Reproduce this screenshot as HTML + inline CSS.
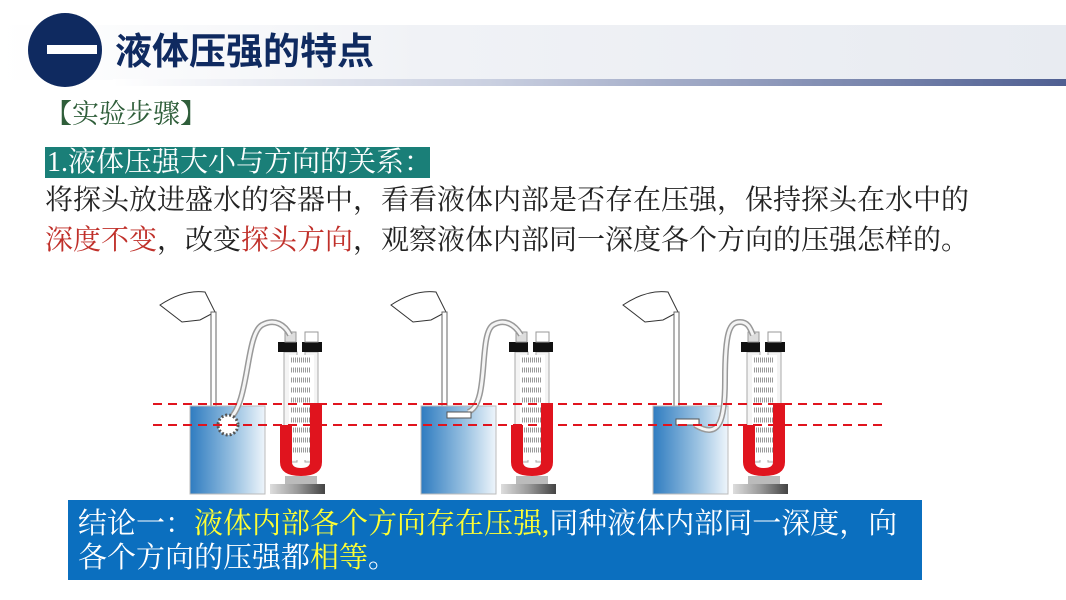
<!DOCTYPE html>
<html><head><meta charset="utf-8"><style>
body{margin:0;width:1066px;height:600px;background:#fff;position:relative;overflow:hidden;font-family:"Liberation Serif","Noto Serif CJK SC",serif}
.t{position:absolute;white-space:nowrap;font-size:28px;line-height:32px}
</style></head><body>
<div style="position:absolute;left:0;top:25px;width:1066px;height:55px;background:linear-gradient(90deg,#fff 0%,#f0f2f6 40%,#e8ebf1 100%)"></div>
<div style="position:absolute;left:113px;top:79px;width:953px;height:7px;background:linear-gradient(90deg,#fff 0%,#c9cfe0 40%,#4f5f92 100%)"></div>
<div style="position:absolute;left:28px;top:13px;width:74px;height:74px;border-radius:50%;background:#0f2a60"></div>
<div style="position:absolute;left:47px;top:45px;width:50px;height:9px;background:#fff"></div>
<div class="t" style="left:115px;top:31px;font-size:37px;line-height:42px;font-weight:bold;color:#0f2a60;font-family:'Liberation Sans','Noto Sans CJK SC',sans-serif">液体压强的特点</div>
<div class="t" style="left:45px;top:98px;color:#2f5e3a;font-size:27px">【实验步骤】</div>
<div style="position:absolute;left:45px;top:147px;width:385px;height:31px;background:#1a7f78"></div>
<div class="t" style="left:47px;top:147px;color:#fff">1.液体压强大小与方向的关系：</div>
<div class="t" style="left:45px;top:185px;color:#222">将探头放进盛水的容器中，看看液体内部是否存在压强，保持探头在水中的</div>
<div class="t" style="left:45px;top:225px;color:#222"><span style="color:#c0302a">深度不变</span>，改变<span style="color:#c0302a">探头方向</span>，观察液体内部同一深度各个方向的压强怎样的。</div>
<svg style="position:absolute;left:0;top:0" width="1066" height="600">
<defs>
<linearGradient id="w" x1="0" x2="1"><stop offset="0" stop-color="#2f7cc0"/><stop offset="0.6" stop-color="#9cc3e2"/><stop offset="1" stop-color="#eef5fb"/></linearGradient>
<linearGradient id="g" x1="0" x2="1"><stop offset="0" stop-color="#ddd"/><stop offset="0.5" stop-color="#999"/><stop offset="1" stop-color="#444"/></linearGradient>
<g id="app">
<path d="M160 305 C175 295 190 290 205 292 L215 312 L200 320 L182 322 Z" fill="#fff" stroke="#333" stroke-width="1"/>
<rect x="211" y="312" width="5" height="108" fill="#fff" stroke="#666" stroke-width="1"/>
<rect x="190" y="406" width="75" height="88" fill="url(#w)" stroke="#bbb"/>
<rect x="284" y="352" width="13" height="110" fill="#f4f4f4" stroke="#aaa"/>
<rect x="305" y="352" width="13" height="110" fill="#f4f4f4" stroke="#aaa"/>
<rect x="289" y="355" width="25" height="105" fill="#fff"/>
<path d="M291 360 H311 M291 370 H311 M291 380 H311 M291 390 H311 M291 400 H311 M291 410 H311 M291 420 H311 M291 430 H311 M291 440 H311 M291 450 H311" stroke="#999" stroke-width="5" stroke-dasharray="1 1"/>
<path d="M280 425 H292 V462 Q292 468 301 468 Q310 468 310 462 V403 H322 V462 Q322 476 301 476 Q280 476 280 462 Z" fill="#e0141e"/>
<rect x="278" y="342" width="19" height="10" fill="#111"/>
<rect x="302" y="342" width="20" height="10" fill="#111"/>
<rect x="305" y="332" width="13" height="10" fill="#fff" stroke="#999"/>
<rect x="285" y="332" width="11" height="10" fill="#ddd" stroke="#999"/>
<rect x="285" y="476" width="32" height="8" fill="#bbb"/>
<rect x="270" y="484" width="55" height="10" fill="url(#g)"/>
</g>
</defs>
<use href="#app"/>
<use href="#app" x="231"/>
<use href="#app" x="463"/>
<path d="M228 420 C250 405 245 335 262 325 C275 318 285 325 290 335" fill="none" stroke="#999" stroke-width="6"/>
<path d="M228 420 C250 405 245 335 262 325 C275 318 285 325 290 335" fill="none" stroke="#f4f4f4" stroke-width="3"/>
<circle cx="228" cy="425" r="10" fill="#fff" stroke="#555" stroke-width="3" stroke-dasharray="2 2"/>
<path d="M468 412 C490 405 478 335 493 325 C505 318 515 325 521 335" fill="none" stroke="#999" stroke-width="6"/>
<path d="M468 412 C490 405 478 335 493 325 C505 318 515 325 521 335" fill="none" stroke="#f4f4f4" stroke-width="3"/>
<rect x="447" y="412" width="24" height="6" fill="#fff" stroke="#555"/>
<path d="M695 425 C720 440 725 420 725 380 C725 330 730 322 740 322 C748 322 750 328 753 335" fill="none" stroke="#999" stroke-width="6"/>
<path d="M695 425 C720 440 725 420 725 380 C725 330 730 322 740 322 C748 322 750 328 753 335" fill="none" stroke="#f4f4f4" stroke-width="3"/>
<rect x="676" y="419" width="23" height="6" fill="#fff" stroke="#555"/>
<path d="M153 404 H885 M153 425 H885" stroke="#e0141e" stroke-width="2" stroke-dasharray="9 6"/>
</svg>
<div style="position:absolute;left:68px;top:500px;width:854px;height:80px;background:#0b6fbf"></div>
<div class="t" style="left:78px;top:507px;color:#fff;font-size:29px;line-height:34px">结论一：<span style="color:#ffff33">液体内部各个方向存在压强,</span>同种液体内部同一深度，向</div>
<div class="t" style="left:78px;top:541px;color:#fff;font-size:29px;line-height:34px">各个方向的压强都<span style="color:#ffff33">相等</span>。</div>
</body></html>
